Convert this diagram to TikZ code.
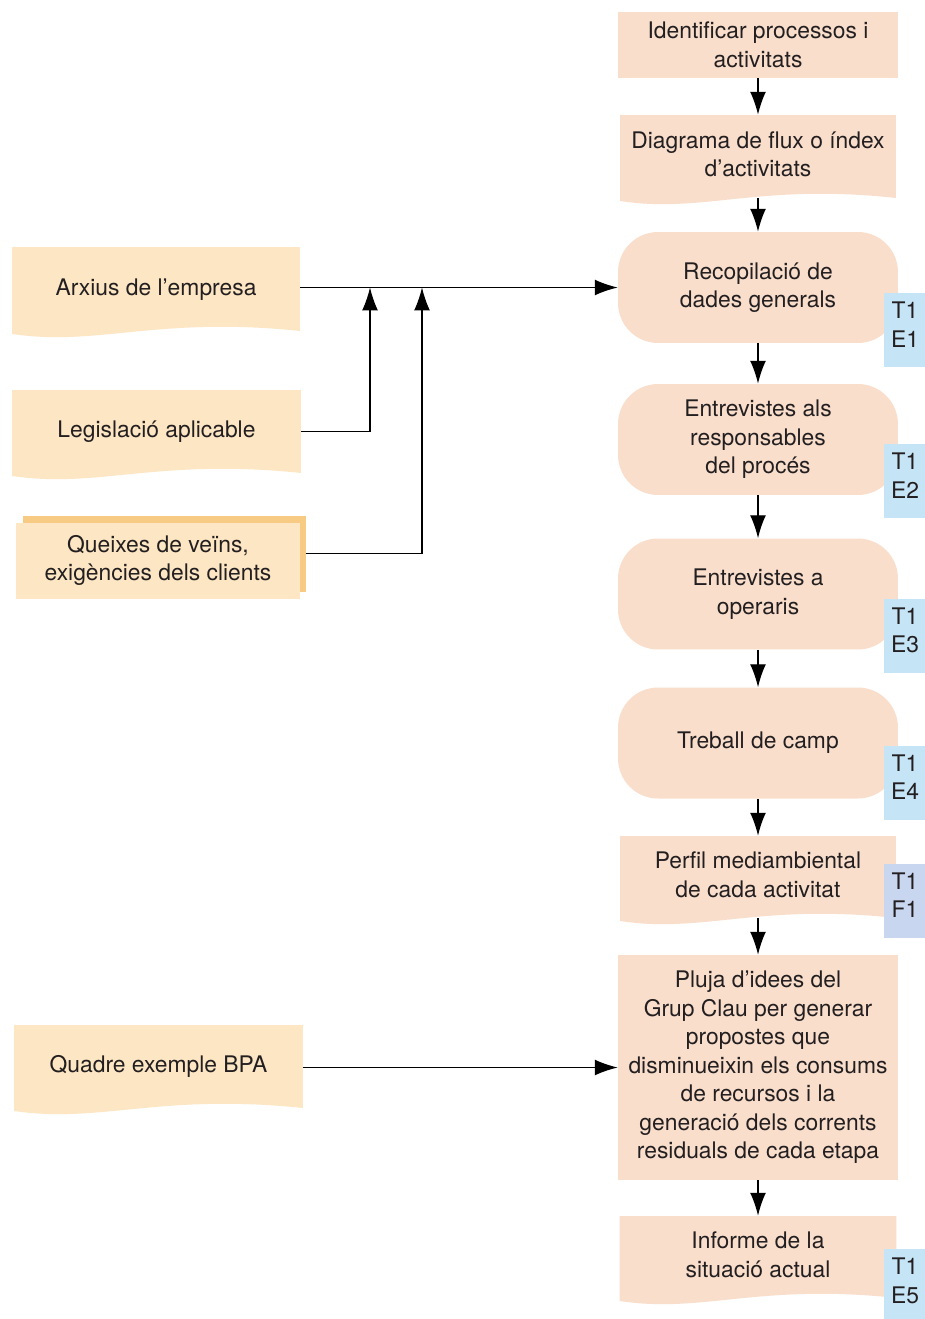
\documentclass[tikz,border=0pt]{standalone}
\usepackage{fontspec}
\setmainfont{TeX Gyre Heros}
\usetikzlibrary{arrows.meta,calc}
\definecolor{mypeach}{RGB}{249,222,204}
\definecolor{mybeige}{RGB}{253,230,196}
\definecolor{myorange}{RGB}{247,203,132}
\definecolor{myblue}{RGB}{197,229,247}
\definecolor{mylilac}{RGB}{201,214,239}
\definecolor{myink}{RGB}{35,31,32}

\begin{document}
\begin{tikzpicture}[x=0.02cm,y=-0.02cm,
  font=\fontsize{13pt}{16.2pt}\selectfont,
  every node/.style={inner sep=0pt,align=center,text=myink},
  plainbox/.style={fill=#1,minimum width=5.6cm},
  roundbox/.style={fill=mypeach,rounded corners=0.8cm,minimum width=5.6cm,minimum height=2.22cm},
  docbox/.style={fill=white,text depth=6.5pt,
    path picture={\fill[#1] (path picture bounding box.north west)
      -- (path picture bounding box.north east)
      -- ($(path picture bounding box.south east)+(0,4pt)$)
      .. controls ($(path picture bounding box.south west)!0.5!(path picture bounding box.south east)+(0,12.5pt)$)
      and ($(path picture bounding box.south west)!0.3!(path picture bounding box.south east)+(0,-5pt)$)
      .. ($(path picture bounding box.south west)+(0,2.3pt)$) -- cycle;}},
  tagbox/.style={fill=#1,minimum width=0.84cm,minimum height=1.48cm,text depth=6pt},
  arr/.style={line width=0.7pt,-{Latex[length=13pt,width=9pt]}}]

  \useasboundingbox (0,0) rectangle (925,1319);

  % main column
  \node[plainbox=mypeach,minimum height=1.32cm] (ident) at (758,45) {Identificar processos i\\activitats};
  \node[docbox=mypeach,minimum width=5.52cm,minimum height=1.8cm] (diag) at (758,160) {Diagrama de flux o índex\\d’activitats};
  \node[roundbox] (recop) at (758,287.5) {Recopilació de\\dades generals};
  \node[roundbox] (entres) at (758,439.5) {Entrevistes als\\responsables\\del procés};
  \node[roundbox] (entop) at (758,594) {Entrevistes a\\operaris};
  \node[roundbox] (camp) at (758,743) {Treball de camp};
  \node[docbox=mypeach,minimum width=5.52cm,minimum height=1.78cm] (perfil) at (758,880.5) {Perfil mediambiental\\de cada activitat};
  \node[plainbox=mypeach,minimum height=4.5cm] (pluja) at (758,1067.5) {Pluja d’idees del\\Grup Clau per generar\\propostes que\\disminueixin els consums\\de recursos i la\\generació dels corrents\\residuals de cada etapa};
  \node[docbox=mypeach,minimum width=5.54cm,minimum height=1.78cm] (inform) at (758,1260.5) {Informe de la\\situació actual};

  % tags
  \node[tagbox=myblue] (t1) at (905,330) {T1\\E1};
  \node[tagbox=myblue] (t2) at (905,481) {T1\\E2};
  \node[tagbox=myblue] (t3) at (905,635.5) {T1\\E3};
  \node[tagbox=myblue] (t4) at (905,782.5) {T1\\E4};
  \node[tagbox=mylilac] (t5) at (905,900.5) {T1\\F1};
  \node[tagbox=myblue] (t6) at (905,1286) {T1\\E5};

  % sources on the left
  \node[docbox=mybeige,minimum width=5.76cm,minimum height=1.82cm] (arxius) at (156,292.5) {Arxius de l’empresa};
  \node[docbox=mybeige,minimum width=5.78cm,minimum height=1.8cm] (legis) at (156.5,435) {Legislació aplicable};
  \node[fill=myorange,minimum width=5.66cm,minimum height=1.52cm] (queixb) at (164.5,553.5) {};
  \node[fill=mybeige,minimum width=5.68cm,minimum height=1.52cm] (queix) at (158,560.5) {Queixes de veïns,\\exigències dels clients};
  \node[docbox=mybeige,minimum width=5.78cm,minimum height=1.8cm] (quadre) at (158.5,1070) {Quadre exemple BPA};

  \coordinate (j1) at (370,287.5);
  \coordinate (j2) at (422,287.5);

  % arrows
  \draw[arr] (ident) -- (diag);
  \draw[arr] ([yshift=4pt]diag.south) -- (recop);
  \draw[arr] (recop) -- (entres);
  \draw[arr] (entres) -- (entop);
  \draw[arr] (entop) -- (camp);
  \draw[arr] (camp) -- (perfil);
  \draw[arr] ([yshift=4pt]perfil.south) -- (pluja);
  \draw[arr] (pluja) -- (inform);

  \draw[arr] (arxius.east |- recop) -- (recop);
  \draw[arr] ([yshift=2pt]legis.east) -| (j1);
  \draw[arr] (queixb.east) -| (j2);
  \draw[arr] (quadre.east |- pluja) -- (pluja);

\end{tikzpicture}
\end{document}
